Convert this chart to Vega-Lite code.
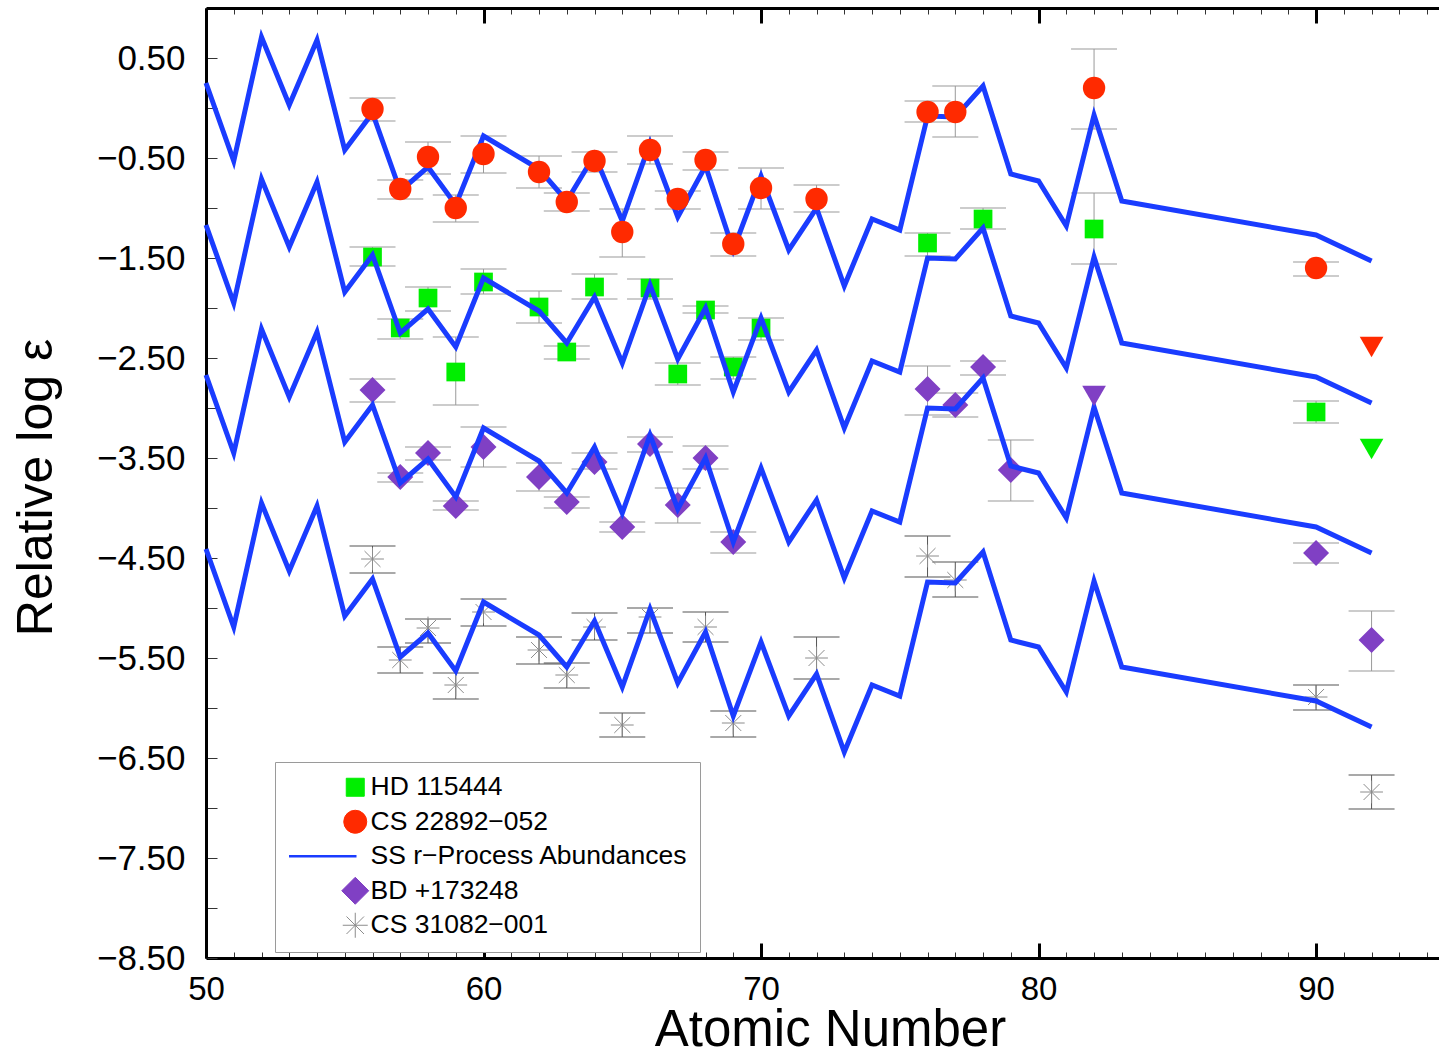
{
  "$schema": "https://vega.github.io/schema/vega-lite/v6.json",
  "width": 1233,
  "height": 950,
  "autosize": {"type": "none"},
  "padding": {"left": 206, "top": 8, "right": 0, "bottom": 92},
  "background": "white",
  "config": {
    "view": {"stroke": null},
    "font": "Liberation Sans"
  },
  "datasets": {
    "obs": [
      {"series": "HD 115444", "Z": 56, "value": -1.49, "lo": -1.58, "hi": -1.39},
      {"series": "HD 115444", "Z": 57, "value": -2.20, "lo": -2.31, "hi": -2.11},
      {"series": "HD 115444", "Z": 58, "value": -1.90, "lo": -2.03, "hi": -1.79},
      {"series": "HD 115444", "Z": 59, "value": -2.64, "lo": -2.97, "hi": -2.29},
      {"series": "HD 115444", "Z": 60, "value": -1.74, "lo": -1.86, "hi": -1.61},
      {"series": "HD 115444", "Z": 62, "value": -1.99, "lo": -2.15, "hi": -1.83},
      {"series": "HD 115444", "Z": 63, "value": -2.44, "lo": -2.51, "hi": -2.38},
      {"series": "HD 115444", "Z": 64, "value": -1.79, "lo": -1.91, "hi": -1.66},
      {"series": "HD 115444", "Z": 66, "value": -1.80, "lo": -1.91, "hi": -1.71},
      {"series": "HD 115444", "Z": 67, "value": -2.66, "lo": -2.77, "hi": -2.55},
      {"series": "HD 115444", "Z": 68, "value": -2.02, "lo": -2.05, "hi": -1.98},
      {"series": "HD 115444", "Z": 69, "value": -2.59, "lo": -2.71, "hi": -2.49},
      {"series": "HD 115444", "Z": 70, "value": -2.20, "lo": -2.32, "hi": -2.10},
      {"series": "HD 115444", "Z": 76, "value": -1.35, "lo": -1.48, "hi": -1.25},
      {"series": "HD 115444", "Z": 78, "value": -1.11, "lo": -1.21, "hi": -1.00},
      {"series": "HD 115444", "Z": 82, "value": -1.21, "lo": -1.56, "hi": -0.85},
      {"series": "HD 115444", "Z": 90, "value": -3.04, "lo": -3.15, "hi": -2.93},

      {"series": "CS 22892−052", "Z": 56, "value": -0.01, "lo": -0.13, "hi": 0.10},
      {"series": "CS 22892−052", "Z": 57, "value": -0.81, "lo": -0.91, "hi": -0.72},
      {"series": "CS 22892−052", "Z": 58, "value": -0.49, "lo": -0.66, "hi": -0.34},
      {"series": "CS 22892−052", "Z": 59, "value": -1.00, "lo": -1.14, "hi": -0.87},
      {"series": "CS 22892−052", "Z": 60, "value": -0.46, "lo": -0.65, "hi": -0.28},
      {"series": "CS 22892−052", "Z": 62, "value": -0.64, "lo": -0.80, "hi": -0.48},
      {"series": "CS 22892−052", "Z": 63, "value": -0.94, "lo": -1.03, "hi": -0.85},
      {"series": "CS 22892−052", "Z": 64, "value": -0.53, "lo": -0.64, "hi": -0.44},
      {"series": "CS 22892−052", "Z": 65, "value": -1.24, "lo": -1.49, "hi": -1.01},
      {"series": "CS 22892−052", "Z": 66, "value": -0.42, "lo": -0.56, "hi": -0.28},
      {"series": "CS 22892−052", "Z": 67, "value": -0.91, "lo": -1.01, "hi": -0.83},
      {"series": "CS 22892−052", "Z": 68, "value": -0.52, "lo": -0.62, "hi": -0.44},
      {"series": "CS 22892−052", "Z": 69, "value": -1.36, "lo": -1.48, "hi": -1.25},
      {"series": "CS 22892−052", "Z": 70, "value": -0.80, "lo": -1.01, "hi": -0.60},
      {"series": "CS 22892−052", "Z": 72, "value": -0.91, "lo": -1.04, "hi": -0.77},
      {"series": "CS 22892−052", "Z": 76, "value": -0.04, "lo": -0.14, "hi": 0.07},
      {"series": "CS 22892−052", "Z": 77, "value": -0.04, "lo": -0.29, "hi": 0.22},
      {"series": "CS 22892−052", "Z": 82, "value": 0.20, "lo": -0.21, "hi": 0.59},
      {"series": "CS 22892−052", "Z": 90, "value": -1.60, "lo": -1.68, "hi": -1.54},

      {"series": "BD +173248", "Z": 56, "value": -2.82, "lo": -2.94, "hi": -2.71},
      {"series": "BD +173248", "Z": 57, "value": -3.69, "lo": -3.74, "hi": -3.65},
      {"series": "BD +173248", "Z": 58, "value": -3.45, "lo": -3.52, "hi": -3.39},
      {"series": "BD +173248", "Z": 59, "value": -3.98, "lo": -4.02, "hi": -3.93},
      {"series": "BD +173248", "Z": 60, "value": -3.39, "lo": -3.59, "hi": -3.19},
      {"series": "BD +173248", "Z": 62, "value": -3.69, "lo": -3.83, "hi": -3.55},
      {"series": "BD +173248", "Z": 63, "value": -3.94, "lo": -4.00, "hi": -3.89},
      {"series": "BD +173248", "Z": 64, "value": -3.54, "lo": -3.61, "hi": -3.45},
      {"series": "BD +173248", "Z": 65, "value": -4.19, "lo": -4.24, "hi": -4.14},
      {"series": "BD +173248", "Z": 66, "value": -3.36, "lo": -3.44, "hi": -3.29},
      {"series": "BD +173248", "Z": 67, "value": -3.97, "lo": -4.15, "hi": -3.80},
      {"series": "BD +173248", "Z": 68, "value": -3.50, "lo": -3.61, "hi": -3.38},
      {"series": "BD +173248", "Z": 69, "value": -4.34, "lo": -4.45, "hi": -4.24},
      {"series": "BD +173248", "Z": 76, "value": -2.81, "lo": -3.07, "hi": -2.58},
      {"series": "BD +173248", "Z": 77, "value": -2.97, "lo": -3.09, "hi": -2.85},
      {"series": "BD +173248", "Z": 78, "value": -2.59, "lo": -2.67, "hi": -2.53},
      {"series": "BD +173248", "Z": 79, "value": -3.62, "lo": -3.93, "hi": -3.32},
      {"series": "BD +173248", "Z": 90, "value": -4.45, "lo": -4.55, "hi": -4.35},
      {"series": "BD +173248", "Z": 92, "value": -5.32, "lo": -5.63, "hi": -5.03},

      {"series": "CS 31082−001", "Z": 56, "value": -4.51, "lo": -4.65, "hi": -4.38},
      {"series": "CS 31082−001", "Z": 57, "value": -5.52, "lo": -5.65, "hi": -5.39},
      {"series": "CS 31082−001", "Z": 58, "value": -5.20, "lo": -5.35, "hi": -5.11},
      {"series": "CS 31082−001", "Z": 59, "value": -5.77, "lo": -5.91, "hi": -5.65},
      {"series": "CS 31082−001", "Z": 60, "value": -5.04, "lo": -5.18, "hi": -4.91},
      {"series": "CS 31082−001", "Z": 62, "value": -5.42, "lo": -5.56, "hi": -5.29},
      {"series": "CS 31082−001", "Z": 63, "value": -5.67, "lo": -5.80, "hi": -5.55},
      {"series": "CS 31082−001", "Z": 64, "value": -5.19, "lo": -5.32, "hi": -5.05},
      {"series": "CS 31082−001", "Z": 65, "value": -6.17, "lo": -6.29, "hi": -6.05},
      {"series": "CS 31082−001", "Z": 66, "value": -5.09, "lo": -5.25, "hi": -5.00},
      {"series": "CS 31082−001", "Z": 68, "value": -5.19, "lo": -5.34, "hi": -5.04},
      {"series": "CS 31082−001", "Z": 69, "value": -6.15, "lo": -6.29, "hi": -6.03},
      {"series": "CS 31082−001", "Z": 72, "value": -5.50, "lo": -5.71, "hi": -5.29},
      {"series": "CS 31082−001", "Z": 76, "value": -4.48, "lo": -4.69, "hi": -4.28},
      {"series": "CS 31082−001", "Z": 77, "value": -4.72, "lo": -4.89, "hi": -4.54},
      {"series": "CS 31082−001", "Z": 90, "value": -5.89, "lo": -6.02, "hi": -5.77},
      {"series": "CS 31082−001", "Z": 92, "value": -6.84, "lo": -7.01, "hi": -6.67}
    ],
    "limits": [
      {"series": "CS 22892−052", "Z": 92, "value": -2.39},
      {"series": "HD 115444", "Z": 92, "value": -3.41},
      {"series": "BD +173248", "Z": 82, "value": -2.88}
    ],
    "ss": [
      {"curve": "a", "Z": 50, "value": 0.25}, {"curve": "a", "Z": 51, "value": -0.53},
      {"curve": "a", "Z": 52, "value": 0.71}, {"curve": "a", "Z": 53, "value": 0.03},
      {"curve": "a", "Z": 54, "value": 0.68}, {"curve": "a", "Z": 55, "value": -0.42},
      {"curve": "a", "Z": 56, "value": -0.05}, {"curve": "a", "Z": 57, "value": -0.83},
      {"curve": "a", "Z": 58, "value": -0.59}, {"curve": "a", "Z": 59, "value": -0.97},
      {"curve": "a", "Z": 60, "value": -0.28}, {"curve": "a", "Z": 62, "value": -0.61},
      {"curve": "a", "Z": 63, "value": -0.93}, {"curve": "a", "Z": 64, "value": -0.47},
      {"curve": "a", "Z": 65, "value": -1.13}, {"curve": "a", "Z": 66, "value": -0.35},
      {"curve": "a", "Z": 67, "value": -1.09}, {"curve": "a", "Z": 68, "value": -0.58},
      {"curve": "a", "Z": 69, "value": -1.42}, {"curve": "a", "Z": 70, "value": -0.68},
      {"curve": "a", "Z": 71, "value": -1.42}, {"curve": "a", "Z": 72, "value": -1.00},
      {"curve": "a", "Z": 73, "value": -1.78}, {"curve": "a", "Z": 74, "value": -1.11},
      {"curve": "a", "Z": 75, "value": -1.22}, {"curve": "a", "Z": 76, "value": -0.08},
      {"curve": "a", "Z": 77, "value": -0.09}, {"curve": "a", "Z": 78, "value": 0.22},
      {"curve": "a", "Z": 79, "value": -0.66}, {"curve": "a", "Z": 80, "value": -0.73},
      {"curve": "a", "Z": 81, "value": -1.18}, {"curve": "a", "Z": 82, "value": -0.07},
      {"curve": "a", "Z": 83, "value": -0.93}, {"curve": "a", "Z": 90, "value": -1.27},
      {"curve": "a", "Z": 92, "value": -1.53},

      {"curve": "b", "Z": 50, "value": -1.17}, {"curve": "b", "Z": 51, "value": -1.95},
      {"curve": "b", "Z": 52, "value": -0.71}, {"curve": "b", "Z": 53, "value": -1.39},
      {"curve": "b", "Z": 54, "value": -0.74}, {"curve": "b", "Z": 55, "value": -1.84},
      {"curve": "b", "Z": 56, "value": -1.47}, {"curve": "b", "Z": 57, "value": -2.25},
      {"curve": "b", "Z": 58, "value": -2.01}, {"curve": "b", "Z": 59, "value": -2.39},
      {"curve": "b", "Z": 60, "value": -1.70}, {"curve": "b", "Z": 62, "value": -2.03},
      {"curve": "b", "Z": 63, "value": -2.35}, {"curve": "b", "Z": 64, "value": -1.89},
      {"curve": "b", "Z": 65, "value": -2.55}, {"curve": "b", "Z": 66, "value": -1.77},
      {"curve": "b", "Z": 67, "value": -2.51}, {"curve": "b", "Z": 68, "value": -2.00},
      {"curve": "b", "Z": 69, "value": -2.84}, {"curve": "b", "Z": 70, "value": -2.10},
      {"curve": "b", "Z": 71, "value": -2.84}, {"curve": "b", "Z": 72, "value": -2.42},
      {"curve": "b", "Z": 73, "value": -3.20}, {"curve": "b", "Z": 74, "value": -2.53},
      {"curve": "b", "Z": 75, "value": -2.64}, {"curve": "b", "Z": 76, "value": -1.50},
      {"curve": "b", "Z": 77, "value": -1.51}, {"curve": "b", "Z": 78, "value": -1.20},
      {"curve": "b", "Z": 79, "value": -2.08}, {"curve": "b", "Z": 80, "value": -2.15},
      {"curve": "b", "Z": 81, "value": -2.60}, {"curve": "b", "Z": 82, "value": -1.49},
      {"curve": "b", "Z": 83, "value": -2.35}, {"curve": "b", "Z": 90, "value": -2.69},
      {"curve": "b", "Z": 92, "value": -2.95},

      {"curve": "c", "Z": 50, "value": -2.67}, {"curve": "c", "Z": 51, "value": -3.45},
      {"curve": "c", "Z": 52, "value": -2.21}, {"curve": "c", "Z": 53, "value": -2.89},
      {"curve": "c", "Z": 54, "value": -2.24}, {"curve": "c", "Z": 55, "value": -3.34},
      {"curve": "c", "Z": 56, "value": -2.97}, {"curve": "c", "Z": 57, "value": -3.75},
      {"curve": "c", "Z": 58, "value": -3.51}, {"curve": "c", "Z": 59, "value": -3.89},
      {"curve": "c", "Z": 60, "value": -3.20}, {"curve": "c", "Z": 62, "value": -3.53},
      {"curve": "c", "Z": 63, "value": -3.85}, {"curve": "c", "Z": 64, "value": -3.39},
      {"curve": "c", "Z": 65, "value": -4.05}, {"curve": "c", "Z": 66, "value": -3.27},
      {"curve": "c", "Z": 67, "value": -4.01}, {"curve": "c", "Z": 68, "value": -3.50},
      {"curve": "c", "Z": 69, "value": -4.34}, {"curve": "c", "Z": 70, "value": -3.60},
      {"curve": "c", "Z": 71, "value": -4.34}, {"curve": "c", "Z": 72, "value": -3.92},
      {"curve": "c", "Z": 73, "value": -4.70}, {"curve": "c", "Z": 74, "value": -4.03},
      {"curve": "c", "Z": 75, "value": -4.14}, {"curve": "c", "Z": 76, "value": -3.00},
      {"curve": "c", "Z": 77, "value": -3.01}, {"curve": "c", "Z": 78, "value": -2.70},
      {"curve": "c", "Z": 79, "value": -3.58}, {"curve": "c", "Z": 80, "value": -3.65},
      {"curve": "c", "Z": 81, "value": -4.10}, {"curve": "c", "Z": 82, "value": -2.99},
      {"curve": "c", "Z": 83, "value": -3.85}, {"curve": "c", "Z": 90, "value": -4.19},
      {"curve": "c", "Z": 92, "value": -4.45},

      {"curve": "d", "Z": 50, "value": -4.41}, {"curve": "d", "Z": 51, "value": -5.19},
      {"curve": "d", "Z": 52, "value": -3.95}, {"curve": "d", "Z": 53, "value": -4.63},
      {"curve": "d", "Z": 54, "value": -3.98}, {"curve": "d", "Z": 55, "value": -5.08},
      {"curve": "d", "Z": 56, "value": -4.71}, {"curve": "d", "Z": 57, "value": -5.49},
      {"curve": "d", "Z": 58, "value": -5.25}, {"curve": "d", "Z": 59, "value": -5.63},
      {"curve": "d", "Z": 60, "value": -4.94}, {"curve": "d", "Z": 62, "value": -5.27},
      {"curve": "d", "Z": 63, "value": -5.59}, {"curve": "d", "Z": 64, "value": -5.13},
      {"curve": "d", "Z": 65, "value": -5.79}, {"curve": "d", "Z": 66, "value": -5.01},
      {"curve": "d", "Z": 67, "value": -5.75}, {"curve": "d", "Z": 68, "value": -5.24},
      {"curve": "d", "Z": 69, "value": -6.08}, {"curve": "d", "Z": 70, "value": -5.34},
      {"curve": "d", "Z": 71, "value": -6.08}, {"curve": "d", "Z": 72, "value": -5.66},
      {"curve": "d", "Z": 73, "value": -6.44}, {"curve": "d", "Z": 74, "value": -5.77},
      {"curve": "d", "Z": 75, "value": -5.88}, {"curve": "d", "Z": 76, "value": -4.74},
      {"curve": "d", "Z": 77, "value": -4.75}, {"curve": "d", "Z": 78, "value": -4.44},
      {"curve": "d", "Z": 79, "value": -5.32}, {"curve": "d", "Z": 80, "value": -5.39},
      {"curve": "d", "Z": 81, "value": -5.84}, {"curve": "d", "Z": 82, "value": -4.73},
      {"curve": "d", "Z": 83, "value": -5.59}, {"curve": "d", "Z": 90, "value": -5.93},
      {"curve": "d", "Z": 92, "value": -6.19}
    ]
  },
  "layer": [
    {
      "data": {"name": "obs"},
      "mark": {"type": "rule", "strokeWidth": 1},
      "encoding": {
        "x": {
          "field": "Z", "type": "quantitative",
          "scale": {"domain": [50, 94.43], "nice": false, "zero": false},
          "axis": {
            "orient": "bottom",
            "values": [50,51,52,53,54,55,56,57,58,59,60,61,62,63,64,65,66,67,68,69,70,71,72,73,74,75,76,77,78,79,80,81,82,83,84,85,86,87,88,89,90,91,92,93,94],
            "tickSize": -6, "tickWidth": 1, "tickColor": "#333333",
            "labels": false, "grid": false, "title": null,
            "domain": true, "domainWidth": 3, "domainColor": "black"
          }
        },
        "y": {
          "field": "lo", "type": "quantitative",
          "scale": {"domain": [-8.5, 1.0], "nice": false, "zero": false},
          "axis": {
            "orient": "left",
            "values": [-8.5,-8,-7.5,-7,-6.5,-6,-5.5,-5,-4.5,-4,-3.5,-3,-2.5,-2,-1.5,-1,-0.5,0,0.5],
            "format": ".2f",
            "labelExpr": "abs(datum.value - floor(datum.value) - 0.5) < 0.01 ? datum.label : ''",
            "tickSize": -11, "tickWidth": 1, "tickColor": "#333333",
            "domain": true, "domainWidth": 3, "domainColor": "black",
            "grid": false,
            "labelFont": "Liberation Sans", "labelFontSize": 35, "labelColor": "black",
            "labelPadding": 32, "labelOverlap": false, "labelFlush": false,
            "title": "Relative log ε",
            "titleFont": "Liberation Sans", "titleFontSize": 50, "titleFontWeight": "normal",
            "titleColor": "black", "titleAlign": "center",
            "titleBaseline": "alphabetic", "titleX": -155, "titleY": 479
          }
        },
        "y2": {"field": "hi"},
        "color": {
          "condition": {"test": "datum.series === 'CS 31082−001'", "value": "#555555"},
          "value": "#9a9a9a"
        }
      }
    },
    {
      "data": {"name": "obs"},
      "mark": {"type": "tick", "orient": "horizontal", "size": 46, "thickness": 1, "opacity": 1},
      "encoding": {
        "x": {
          "field": "Z", "type": "quantitative",
          "scale": {"domain": [50, 94.43], "nice": false, "zero": false},
          "axis": {
            "orient": "bottom",
            "values": [50, 60, 70, 80, 90],
            "format": "d",
            "tickSize": -15, "tickWidth": 3, "tickColor": "black",
            "domain": false, "grid": false,
            "labelFont": "Liberation Sans", "labelFontSize": 33, "labelColor": "black",
            "labelPadding": 30, "labelFlush": false, "labelOverlap": false,
            "title": "Atomic Number",
            "titleFont": "Liberation Sans", "titleFontSize": 51, "titleFontWeight": "normal",
            "titleColor": "black", "titleAlign": "center", "titleBaseline": "alphabetic",
            "titleX": 624, "titleY": 87
          }
        },
        "y": {
          "field": "lo", "type": "quantitative",
          "scale": {"domain": [-8.5, 1.0], "nice": false, "zero": false},
          "axis": null
        },
        "color": {
          "condition": {"test": "datum.series === 'CS 31082−001'", "value": "#555555"},
          "value": "#9a9a9a"
        }
      }
    },
    {
      "data": {"name": "obs"},
      "mark": {"type": "tick", "orient": "horizontal", "size": 46, "thickness": 1, "opacity": 1},
      "encoding": {
        "x": {
          "field": "Z", "type": "quantitative",
          "scale": {"domain": [50, 94.43], "nice": false, "zero": false},
          "axis": {
            "orient": "top",
            "values": [50,51,52,53,54,55,56,57,58,59,60,61,62,63,64,65,66,67,68,69,70,71,72,73,74,75,76,77,78,79,80,81,82,83,84,85,86,87,88,89,90,91,92,93,94],
            "tickSize": -6, "tickWidth": 1, "tickColor": "#333333",
            "labels": false, "grid": false, "title": null,
            "domain": true, "domainWidth": 3, "domainColor": "black"
          }
        },
        "y": {
          "field": "hi", "type": "quantitative",
          "scale": {"domain": [-8.5, 1.0], "nice": false, "zero": false},
          "axis": null
        },
        "color": {
          "condition": {"test": "datum.series === 'CS 31082−001'", "value": "#555555"},
          "value": "#9a9a9a"
        }
      }
    },
    {
      "data": {"name": "obs"},
      "transform": [{"filter": "datum.series === 'HD 115444' || datum.series === 'BD +173248'"}],
      "mark": {"type": "point", "filled": true, "opacity": 1, "strokeWidth": 0},
      "encoding": {
        "x": {
          "field": "Z", "type": "quantitative",
          "scale": {"domain": [50, 94.43], "nice": false, "zero": false},
          "axis": {
            "orient": "top",
            "values": [50, 60, 70, 80, 90],
            "tickSize": -15, "tickWidth": 3, "tickColor": "black",
            "labels": false, "domain": false, "grid": false, "title": null
          }
        },
        "y": {
          "field": "value", "type": "quantitative",
          "scale": {"domain": [-8.5, 1.0], "nice": false, "zero": false},
          "axis": null
        },
        "size": {
          "condition": {"test": "datum.series === 'HD 115444'", "value": 350},
          "value": 676
        },
        "color": {
          "field": "series", "type": "nominal", "title": null,
          "scale": {
            "domain": ["HD 115444", "CS 22892−052", "SS r−Process Abundances", "BD +173248", "CS 31082−001"],
            "range": ["#00ee00", "#ff2a00", "#1a3cff", "#8040c4", "#8c8c8c"]
          },
          "legend": {
            "orient": "none", "legendX": 69, "legendY": 754,
            "fillColor": "white", "strokeColor": "#9a9a9a",
            "padding": 12, "rowPadding": 2.5, "gridAlign": "all",
            "labelFont": "Liberation Sans", "labelFontSize": 26.5, "labelColor": "black", "labelLimit": 0,
            "symbolSize": 676, "symbolOffset": 55, "labelOffset": 2, "symbolOpacity": 1,
            "encode": {
              "symbols": {
                "update": {
                  "fill": {"scale": "color", "field": "value"},
                  "stroke": {"scale": "color", "field": "value"},
                  "strokeWidth": {"signal": "datum.value === 'SS r−Process Abundances' ? 2.5 : 1"},
                  "size": {"signal": "datum.value === 'HD 115444' ? 324 : datum.value === 'CS 22892−052' ? 529 : datum.value === 'BD +173248' ? 729 : 625"}
                }
              }
            }
          }
        },
        "shape": {
          "field": "series", "type": "nominal", "title": null,
          "scale": {
            "domain": ["HD 115444", "CS 22892−052", "SS r−Process Abundances", "BD +173248", "CS 31082−001"],
            "range": ["square", "circle", "M-5.3,0L0.1,0", "diamond", "M0,-1L0,1M-1,0L1,0M-0.7,-0.7L0.7,0.7M-0.7,0.7L0.7,-0.7"]
          },
          "legend": {
            "orient": "none", "legendX": 69, "legendY": 754,
            "fillColor": "white", "strokeColor": "#9a9a9a",
            "padding": 12, "rowPadding": 2.5, "gridAlign": "all",
            "labelFont": "Liberation Sans", "labelFontSize": 26.5, "labelColor": "black", "labelLimit": 0,
            "symbolSize": 676, "symbolOffset": 55, "labelOffset": 2, "symbolOpacity": 1,
            "encode": {
              "symbols": {
                "update": {
                  "fill": {"scale": "color", "field": "value"},
                  "stroke": {"scale": "color", "field": "value"},
                  "strokeWidth": {"signal": "datum.value === 'SS r−Process Abundances' ? 2.5 : 1"},
                  "size": {"signal": "datum.value === 'HD 115444' ? 324 : datum.value === 'CS 22892−052' ? 529 : datum.value === 'BD +173248' ? 729 : 625"}
                }
              }
            }
          }
        }
      }
    },
    {
      "data": {"name": "obs"},
      "transform": [{"filter": "datum.series === 'CS 31082−001'"}],
      "mark": {"type": "point", "filled": false, "opacity": 1, "strokeWidth": 1, "size": 520},
      "encoding": {
        "x": {"field": "Z", "type": "quantitative", "scale": {"domain": [50, 94.43], "nice": false, "zero": false}, "axis": null},
        "y": {"field": "value", "type": "quantitative", "scale": {"domain": [-8.5, 1.0], "nice": false, "zero": false}, "axis": null},
        "color": {"field": "series", "type": "nominal", "title": null, "legend": null},
        "shape": {"field": "series", "type": "nominal", "title": null, "legend": null}
      }
    },
    {
      "data": {"name": "ss"},
      "mark": {"type": "line", "strokeWidth": 5, "color": "#1a3cff"},
      "encoding": {
        "x": {"field": "Z", "type": "quantitative", "scale": {"domain": [50, 94.43], "nice": false, "zero": false}, "axis": null},
        "y": {"field": "value", "type": "quantitative", "scale": {"domain": [-8.5, 1.0], "nice": false, "zero": false}, "axis": null},
        "detail": {"field": "curve", "type": "nominal"}
      }
    },
    {
      "data": {"name": "obs"},
      "transform": [{"filter": "datum.series === 'CS 22892−052'"}],
      "mark": {"type": "point", "filled": true, "opacity": 1, "strokeWidth": 0, "size": 500},
      "encoding": {
        "x": {"field": "Z", "type": "quantitative", "scale": {"domain": [50, 94.43], "nice": false, "zero": false}, "axis": null},
        "y": {"field": "value", "type": "quantitative", "scale": {"domain": [-8.5, 1.0], "nice": false, "zero": false}, "axis": null},
        "color": {"field": "series", "type": "nominal", "title": null, "legend": null},
        "shape": {"field": "series", "type": "nominal", "title": null, "legend": null}
      }
    },
    {
      "data": {"name": "limits"},
      "mark": {"type": "point", "filled": true, "opacity": 1, "strokeWidth": 0, "shape": "triangle-down", "size": 560},
      "encoding": {
        "x": {"field": "Z", "type": "quantitative", "scale": {"domain": [50, 94.43], "nice": false, "zero": false}, "axis": null},
        "y": {"field": "value", "type": "quantitative", "scale": {"domain": [-8.5, 1.0], "nice": false, "zero": false}, "axis": null},
        "color": {"field": "series", "type": "nominal", "title": null, "legend": null}
      }
    }
  ],
  "resolve": {"axis": {"x": "independent", "y": "independent"}}
}
